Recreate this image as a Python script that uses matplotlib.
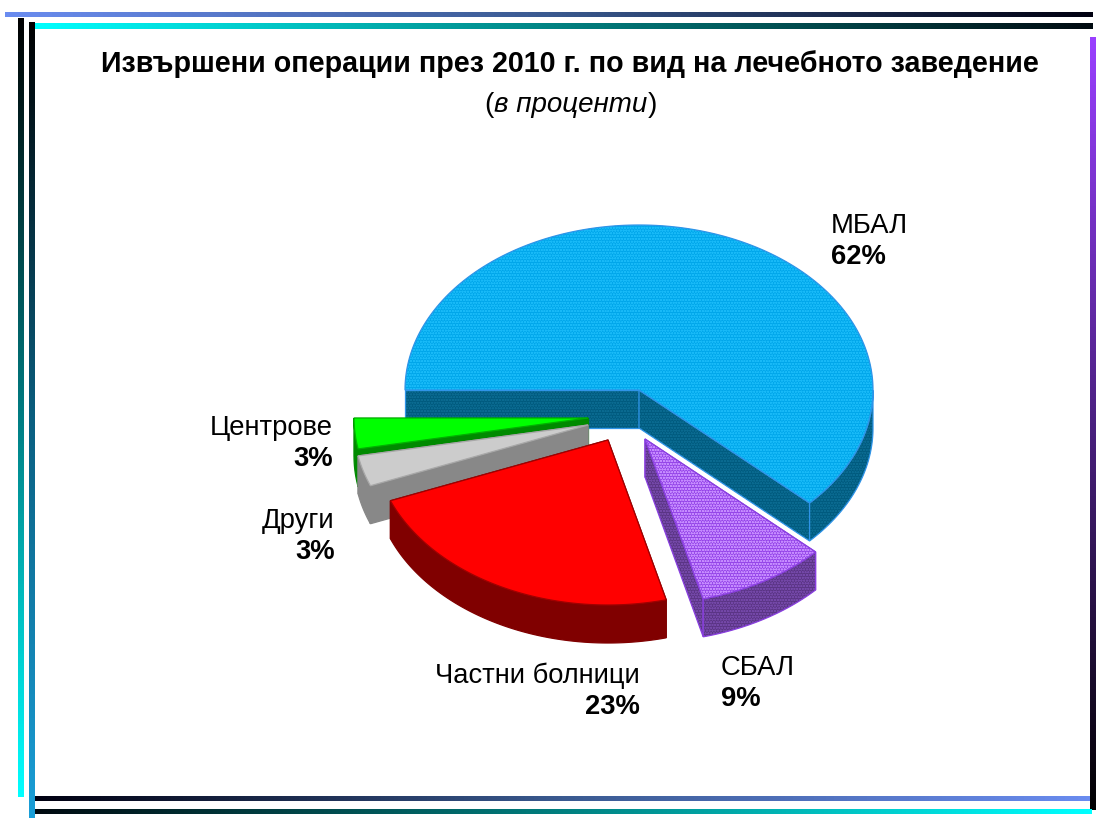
import numpy as np
import matplotlib
matplotlib.use("Agg")
import matplotlib.pyplot as plt
from matplotlib.colors import LinearSegmentedColormap
from matplotlib.patches import Polygon

plt.rcParams["font.family"] = ["Liberation Sans", "DejaVu Sans"]
plt.rcParams["hatch.linewidth"] = 0.6

# Data
categories = ["МБАЛ", "СБАЛ", "Частни болници", "Други", "Центрове"]
shares = [62, 9, 23, 3, 3]
share_labels = ["62%", "9%", "23%", "3%", "3%"]

# Style of each slice
top_colors = ["#00a6ea", "#9444e8", "#ff0000", "#cccccc", "#00ff00"]
side_colors = ["#005a7e", "#5a3484", "#800000", "#888888", "#008a00"]
edge_colors = ["#2f94e8", "#8a3fe0", "#a00000", "#a8a8a8", "#00b000"]
top_hatch = ["#18baf8", "#c68cff", None, None, None]
side_hatch = ["#0a6a90", "#7448a8", None, None, None]
offsets = [(0, 0), (6, 49), (-31, 50), (-51, 35), (-51, 28)]
draw_order = [0, 4, 3, 2, 1]

# Pie geometry in image pixels
cx, cy = 639, 390
rx, ry = 234, 165
depth = 38

fig = plt.figure(figsize=(10.97, 8.18), dpi=100)
ax = fig.add_axes([0, 0, 1, 1])


def gradient_bar(x0, x1, y0, y1, colors, vertical=False):
    cmap = LinearSegmentedColormap.from_list("bar", colors)
    grad = np.linspace(0, 1, 256)
    grad = grad.reshape(-1, 1) if vertical else grad.reshape(1, -1)
    ax.imshow(grad, cmap=cmap, extent=(x0, x1, y1, y0), aspect="auto", zorder=1)


# Frame
gradient_bar(5, 1093, 12, 17, ["#6a8cf0", "#3a5a90", "#000010"])
gradient_bar(32, 1093, 23, 29, ["#00ffff", "#008080", "#000a10"])
gradient_bar(18, 24, 18, 797, ["#000000", "#007a80", "#00ffff"], vertical=True)
gradient_bar(29, 35, 22, 818, ["#000000", "#0a5f80", "#1a9fd8"], vertical=True)
gradient_bar(1090, 1096, 37, 810, ["#9a40ff", "#4a2080", "#000000"], vertical=True)
gradient_bar(35, 1090, 796, 801, ["#000010", "#3a5a90", "#6a8cf0"])
gradient_bar(35, 1092, 809, 814, ["#000a10", "#008080", "#00ffff"])
ax.set_xlim(0, 1097)
ax.set_ylim(818, 0)
ax.axis("off")


def point(a, dx, dy):
    return cx + dx + rx * np.cos(np.radians(a)), cy + dy - ry * np.sin(np.radians(a))


def draw_poly(pts, face, edge, hatch_col, z):
    ax.add_patch(Polygon(pts, closed=True, facecolor=face, edgecolor="none", zorder=z))
    if hatch_col:
        ax.add_patch(Polygon(pts, closed=True, facecolor="none", edgecolor=hatch_col,
                             hatch="oooooo", linewidth=0, zorder=z))
    ax.add_patch(Polygon(pts, closed=True, facecolor="none", edgecolor=edge,
                         linewidth=0.9, zorder=z))


# Slices go clockwise from the left edge of the pie
start = 180.0
for i, share in enumerate(shares):
    end = start - share * 3.6
    dx, dy = offsets[i]
    z = 3 + draw_order.index(i)
    apex = (cx + dx, cy + dy)
    top = [apex] + [point(a, dx, dy) for a in np.linspace(start, end, 200)]
    wall_edge = edge_colors[i] if top_hatch[i] else side_colors[i]

    # cut walls under the two straight edges
    for a in (start, end):
        px, py = point(a, dx, dy)
        wall = [apex, (px, py), (px, py + depth), (apex[0], apex[1] + depth)]
        draw_poly(wall, side_colors[i], wall_edge, side_hatch[i], z)

    # outer wall, only the part of the rim that faces the viewer
    rim = [a for a in np.linspace(start, end, 400) if a <= 0]
    if rim:
        upper = [point(a, dx, dy) for a in rim]
        lower = [(p[0], p[1] + depth) for p in upper][::-1]
        draw_poly(upper + lower, side_colors[i], wall_edge, side_hatch[i], z)

    draw_poly(top, top_colors[i], edge_colors[i], top_hatch[i], z)
    start = end

# Title
ax.text(570, 63.5, "Извършени операции през 2010 г. по вид на лечебното заведение",
        fontsize=20.6, fontweight="bold", ha="center", va="center", color="black", zorder=10)
ax.text(484, 105, "(", fontsize=20, ha="left", va="center", zorder=10)
ax.text(494, 105, "в проценти", fontsize=20, style="italic", ha="left", va="center", zorder=10)
ax.text(657, 105, ")", fontsize=20, ha="right", va="center", zorder=10)

# Labels
name_pos = [(831, 226, "left"), (721, 668, "left"), (640, 676, "right"), (334, 521, "right"), (333, 428, "right")]
value_pos = [(831, 257), (721, 699), (640, 707), (335, 552), (333, 459)]
for i, name in enumerate(categories):
    x, y, ha = name_pos[i]
    ax.text(x, y, name, fontsize=19.7, ha=ha, va="center", zorder=10)
    vx, vy = value_pos[i]
    ax.text(vx, vy, share_labels[i], fontsize=19.7, fontweight="bold", ha=ha, va="center", zorder=10)

fig.savefig("out.png", dpi=100)
